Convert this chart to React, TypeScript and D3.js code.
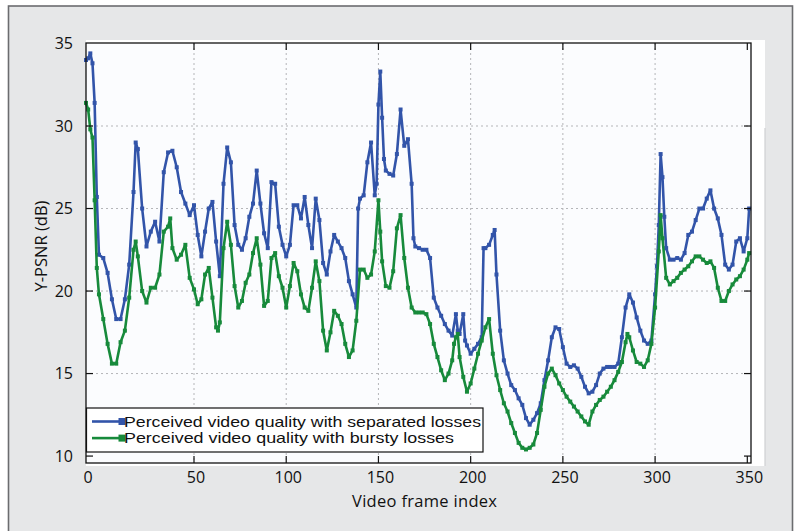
import React from 'react';
import * as d3 from 'd3';

const xTicks = [0, 50, 100, 150, 200, 250, 300, 350];
const yTicks = [10, 15, 20, 25, 30, 35];
const gridX = [50, 100, 150, 200, 250, 300];
const gridY = [15, 20, 25, 30];
const seriesNames = [
  'Perceived video quality with separated losses',
  'Perceived video quality with bursty losses',
];
const seriesColors = ['#3254a9', '#178a3b'];

// [frame, Y-PSNR dB]
const separated: [number, number][] = [
  [0,34.0],[1,34.1],[2,34.4],[3,33.8],[4,31.4],[5,25.7],[6,22.2],[8,22.0],[10,21.1],[12,19.5],
  [14,18.3],[16,18.3],[18,19.5],[20,21.6],[22,26.0],[23,29.0],[24,28.6],[26,25.0],[28,22.7],[30,23.6],
  [32,24.2],[34,23.0],[36,27.2],[38,28.4],[40,28.5],[42,27.5],[44,26.0],[46,25.3],[48,24.6],[50,25.2],
  [52,23.4],[54,22.1],[56,23.6],[58,25.0],[60,25.4],[62,23.0],[64,20.9],[66,26.5],[68,28.7],[70,27.8],
  [72,24.0],[74,22.8],[76,22.5],[78,23.2],[80,24.5],[82,25.3],[84,27.3],[86,25.3],[88,23.5],[90,22.6],
  [92,26.6],[94,26.5],[96,23.9],[98,22.8],[100,22.1],[102,22.8],[104,25.2],[106,25.2],[108,24.4],[110,25.7],
  [112,24.0],[114,22.6],[116,25.6],[118,24.3],[120,21.7],[122,21.0],[124,22.4],[126,23.4],[128,23.0],[130,22.6],
  [132,22.0],[134,20.6],[136,19.8],[138,19.0],[139,25.0],[140,25.6],[142,25.8],[144,27.8],[146,29.0],[148,25.8],
  [149,26.5],[150,31.3],[151,33.3],[152,30.5],[153,28.0],[154,27.3],[156,27.1],[158,27.0],[160,28.3],[162,31.0],
  [164,28.8],[166,29.2],[168,26.5],[169,23.2],[170,22.7],[172,22.6],[174,22.5],[176,22.5],[178,22.0],[180,19.6],
  [182,19.0],[184,18.5],[186,18.0],[188,17.6],[190,17.3],[192,18.6],[193,17.6],[194,17.4],[196,18.6],[197,17.0],
  [198,16.7],[200,16.2],[202,16.5],[204,16.8],[206,17.2],[207,22.6],[208,22.6],[210,22.8],[212,23.4],[213,23.7],
  [214,21.0],[216,17.6],[218,15.8],[220,15.0],[222,14.3],[224,14.0],[226,13.5],[228,13.1],[230,12.3],[232,11.9],
  [234,12.2],[236,12.6],[238,13.2],[240,14.6],[242,15.8],[244,17.2],[246,17.8],[248,17.7],[250,16.6],[252,15.6],
  [254,15.4],[256,15.5],[258,15.3],[260,14.8],[262,14.2],[264,13.8],[266,13.9],[268,14.3],[270,15.0],[272,15.3],
  [274,15.4],[276,15.4],[278,15.4],[280,15.6],[282,17.2],[284,19.0],[286,19.8],[288,19.3],[290,18.4],[292,17.6],
  [294,17.0],[296,16.8],[298,17.0],[300,19.8],[301,21.5],[302,24.0],[303,28.3],[304,26.9],[305,24.5],[306,22.6],
  [308,21.9],[310,21.9],[312,22.0],[314,21.9],[316,22.3],[318,23.4],[320,23.6],[322,24.3],[324,25.0],[326,25.0],
  [328,25.6],[330,26.1],[332,25.0],[334,24.4],[336,23.4],[338,21.6],[340,21.3],[342,21.6],[344,23.0],[346,23.2],
  [348,22.4],[350,23.2],[351,25.0],
];

const bursty: [number, number][] = [
  [0,31.4],[1,31.0],[2,29.8],[3,29.3],[4,25.5],[5,21.4],[6,19.8],[8,18.3],[10,16.8],[12,15.6],
  [14,15.6],[16,16.9],[18,17.6],[20,19.6],[22,22.5],[23,23.0],[24,22.1],[26,20.0],[28,19.3],[30,20.2],
  [32,20.2],[34,21.0],[36,23.6],[38,23.9],[39,24.4],[40,22.6],[42,21.9],[44,22.2],[46,22.8],[48,20.8],
  [50,20.1],[52,19.2],[54,19.5],[56,21.0],[58,21.4],[60,19.6],[62,17.8],[63,17.6],[64,18.1],[66,22.6],
  [68,24.2],[70,22.8],[72,20.3],[74,19.0],[76,19.4],[78,20.5],[80,21.0],[82,22.3],[84,23.2],[86,21.6],
  [88,19.1],[90,19.4],[92,22.0],[94,22.3],[96,20.9],[98,20.2],[100,19.0],[102,20.3],[104,21.7],[106,21.2],
  [108,19.8],[110,19.0],[112,18.8],[114,20.2],[116,21.8],[118,20.6],[120,17.6],[122,16.4],[124,17.5],[126,18.8],
  [128,18.5],[130,18.0],[132,16.8],[134,16.0],[136,16.4],[138,18.2],[140,21.3],[142,21.3],[144,20.8],[146,21.0],
  [148,22.4],[150,25.5],[151,23.6],[152,21.8],[154,20.3],[156,20.2],[158,21.2],[160,23.8],[162,24.6],[164,22.0],
  [166,20.2],[168,19.0],[170,18.7],[172,18.7],[174,18.7],[176,18.6],[178,18.0],[180,16.8],[182,16.0],[184,15.2],
  [186,14.6],[188,15.0],[190,15.8],[191,16.8],[192,17.2],[193,17.4],[194,16.0],[196,14.8],[198,13.9],[200,14.4],
  [202,15.3],[204,16.2],[206,17.0],[208,17.8],[210,18.3],[212,16.2],[214,14.9],[216,14.0],[218,13.2],[220,12.7],
  [222,12.0],[224,11.4],[226,10.8],[228,10.5],[230,10.4],[232,10.5],[234,10.7],[236,11.4],[238,12.8],[240,14.2],
  [242,15.0],[244,15.3],[246,14.9],[248,14.4],[250,14.0],[252,13.6],[254,13.3],[256,13.0],[258,12.7],[260,12.4],
  [262,12.1],[264,11.9],[266,12.7],[268,13.1],[270,13.4],[272,13.6],[274,13.9],[276,14.2],[278,14.6],[280,15.1],
  [282,15.7],[284,16.9],[285,17.4],[286,17.2],[288,16.4],[290,15.7],[292,15.6],[294,15.4],[296,15.8],[298,16.8],
  [300,19.0],[302,22.4],[303,24.6],[304,23.2],[306,20.8],[308,20.4],[310,20.6],[312,20.8],[314,21.1],[316,21.3],
  [318,21.5],[320,21.8],[322,22.1],[324,22.1],[326,21.9],[328,21.7],[330,21.8],[332,21.4],[334,20.2],[336,19.4],
  [338,19.4],[340,20.0],[342,20.4],[344,20.7],[346,20.9],[348,21.3],[350,21.9],[351,22.3],
];

const FONT = '"Open Sans", "DejaVu Sans", sans-serif';
const LEGEND_FONT = '"Liberation Sans", Arial, sans-serif';

export default function App() {
  const W = 795, H = 531;
  const L = 86, T = 43, R = 751, B = 463;
  const x = d3.scaleLinear().domain([0, 50, 352]).range([L, 194, R]);
  const y = d3.scaleLinear().domain([9.58, 35.03]).range([B, T]);
  const line = d3.line<[number, number]>().x(d => x(d[0])).y(d => y(d[1]));
  const series = [separated, bursty];
  const ms = 4;
  const tickLen = 7;

  return (
    <svg width={W} height={H} style={{ position: 'absolute', left: 0, top: 0 }} fontFamily={FONT}>
      <rect x={8.5} y={6} width={784} height={540} fill="#e6e7e8" stroke="#6b6c6f" strokeWidth={1.6} />
      <rect x={L} y={40} width={765 - L} height={466 - 40} fill="#ffffff" />
      <line x1={765} x2={765} y1={128} y2={466} stroke="#cfd0d2" strokeWidth={1.2} />
      <rect x={L} y={T} width={R - L} height={B - T} fill="#fbfcfe" />

      {/* grid */}
      {gridX.map(t => (
        <line key={'gx' + t} x1={x(t)} x2={x(t)} y1={T} y2={B} stroke="#b4b5b8" strokeWidth={1} strokeDasharray="2,3" />
      ))}
      {gridY.map(t => (
        <line key={'gy' + t} x1={L} x2={R} y1={y(t)} y2={y(t)} stroke="#b4b5b8" strokeWidth={1} strokeDasharray="2,3" />
      ))}

      {/* series */}
      {series.map((s, i) => (
        <g key={'s' + i}>
          <path d={line(s) || ''} fill="none" stroke={seriesColors[i]} strokeWidth={2.6} strokeLinejoin="round" />
          {s.map((d, j) => (
            <rect key={j} x={x(d[0]) - ms / 2} y={y(d[1]) - ms / 2} width={ms} height={ms} fill={seriesColors[i]} />
          ))}
        </g>
      ))}

      {/* ticks */}
      {xTicks.filter(t => t > 0).map(t => (
        <g key={'xt' + t}>
          <line x1={x(t)} x2={x(t)} y1={B} y2={B - tickLen} stroke="#111" strokeWidth={1.2} />
          <line x1={x(t)} x2={x(t)} y1={T} y2={T + tickLen} stroke="#111" strokeWidth={1.2} />
        </g>
      ))}
      {yTicks.filter(t => t < 35).map(t => (
        <g key={'yt' + t}>
          <line x1={L} x2={L + tickLen} y1={y(t)} y2={y(t)} stroke="#111" strokeWidth={1.2} />
          <line x1={R} x2={R - tickLen} y1={y(t)} y2={y(t)} stroke="#111" strokeWidth={1.2} />
        </g>
      ))}
      <rect x={L} y={T} width={R - L} height={B - T} fill="none" stroke="#111" strokeWidth={1.3} />

      {/* tick labels */}
      {xTicks.map(t => (
        <text key={'xl' + t} x={x(t) + 2} y={483} textAnchor="middle" fontSize={16} fill="#111">{t}</text>
      ))}
      {yTicks.map(t => (
        <text key={'yl' + t} x={73} y={y(t) + 5.5} textAnchor="end" fontSize={16} fill="#111">{t}</text>
      ))}

      {/* axis labels */}
      <text x={424.5} y={507} textAnchor="middle" fontSize={16.5} fill="#111" textLength={145} lengthAdjust="spacing">Video frame index</text>
      <text transform="translate(47,246) rotate(-90)" textAnchor="middle" fontSize={16.5} fill="#111">Y-PSNR (dB)</text>

      {/* legend */}
      <rect x={86.5} y={408} width={396.5} height={44} fill="#ffffff" stroke="#111" strokeWidth={1.2} />
      {seriesNames.map((n, i) => {
        const ly = 421.5 + i * 16.6;
        return (
          <g key={'lg' + i}>
            <line x1={92} x2={122} y1={ly} y2={ly} stroke={seriesColors[i]} strokeWidth={2.6} />
            <rect x={118.5} y={ly - 3.5} width={7} height={7} fill={seriesColors[i]} />
            <text x={124} y={ly + 5.2} fontSize={14.2} fill="#111" fontFamily={LEGEND_FONT}
              textLength={i === 0 ? 357 : 330} lengthAdjust="spacingAndGlyphs">{n}</text>
          </g>
        );
      })}
    </svg>
  );
}
